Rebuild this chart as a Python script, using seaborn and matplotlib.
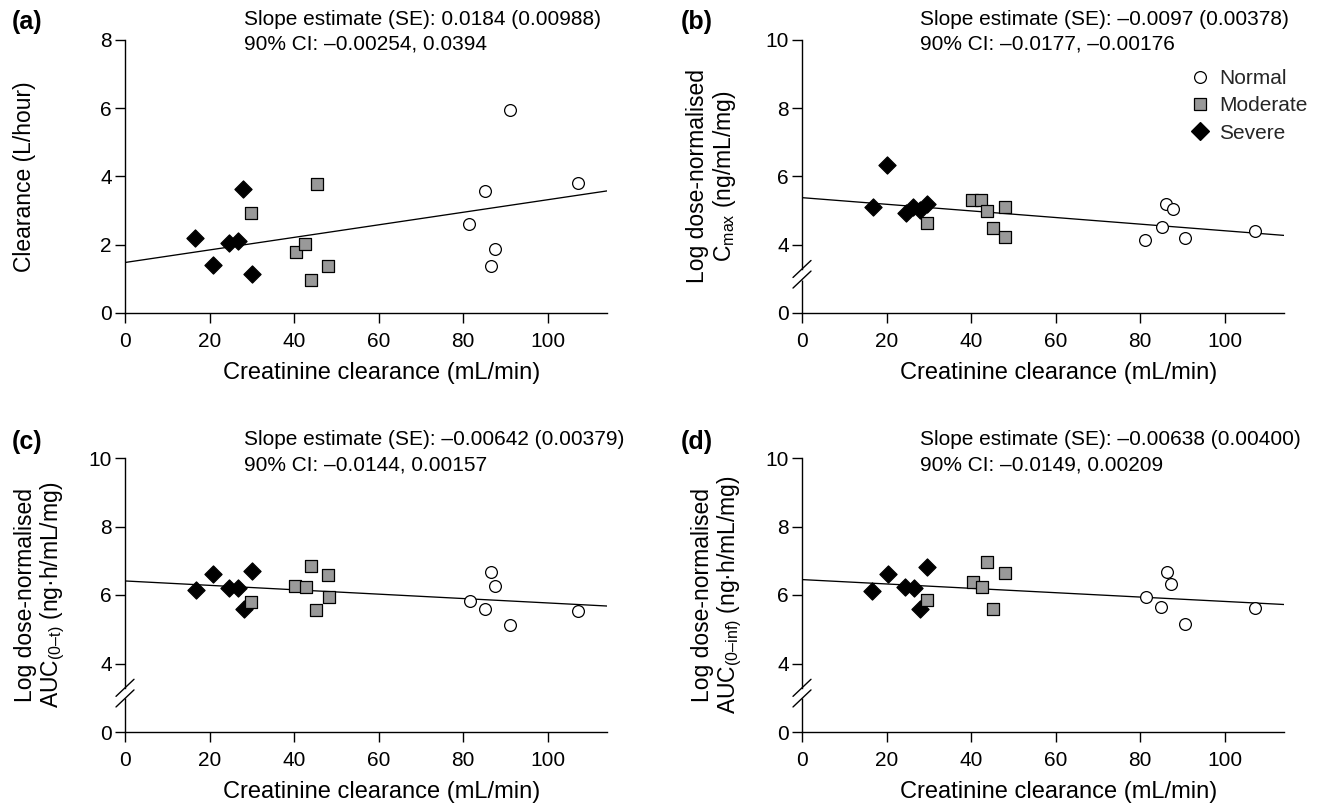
import numpy as np
import pandas as pd
import matplotlib
matplotlib.use("Agg")
import matplotlib.pyplot as plt
import matplotlib.transforms as mtransforms
from matplotlib.lines import Line2D
import seaborn as sns

# ---------------- data ----------------
groups = ["Normal", "Moderate", "Severe"]

# Panel (a): clearance (L/hour)
a_x_normal = [91.1, 85.2, 107.2, 81.4, 87.5, 86.5]
a_y_normal = [5.96, 3.58, 3.80, 2.61, 1.88, 1.37]
a_x_moderate = [29.8, 45.3, 40.4, 42.6, 48.0, 44.1]
a_y_moderate = [2.94, 3.77, 1.80, 2.01, 1.37, 0.97]
a_x_severe = [16.5, 20.9, 24.5, 26.8, 28.0, 30.1]
a_y_severe = [2.21, 1.40, 2.05, 2.10, 3.63, 1.14]

# Panel (b): log dose-normalised Cmax
b_x_normal = [86.2, 87.7, 85.1, 81.2, 90.7, 107.2]
b_y_normal = [5.18, 5.05, 4.53, 4.13, 4.19, 4.39]
b_x_moderate = [29.5, 40.2, 42.4, 43.8, 45.1, 47.9, 47.9]
b_y_moderate = [4.64, 5.30, 5.30, 4.99, 4.48, 5.10, 4.24]
b_x_severe = [16.7, 20.2, 24.5, 26.3, 28.0, 29.6]
b_y_severe = [5.10, 6.35, 4.92, 5.10, 5.03, 5.18]

# Panel (c): log dose-normalised AUC(0-t)
c_x_normal = [86.5, 87.5, 81.5, 85.1, 91.0, 107.2]
c_y_normal = [6.68, 6.26, 5.83, 5.58, 5.11, 5.54]
c_x_moderate = [29.7, 40.2, 42.7, 44.1, 48.0, 48.2, 45.2]
c_y_moderate = [5.81, 6.26, 6.22, 6.85, 6.59, 5.93, 5.57]
c_x_severe = [16.7, 20.7, 24.5, 26.8, 28.2, 30.1]
c_y_severe = [6.15, 6.61, 6.20, 6.20, 5.59, 6.71]

# Panel (d): log dose-normalised AUC(0-inf)
d_x_normal = [86.4, 87.3, 81.3, 85.0, 90.7, 107.2]
d_y_normal = [6.68, 6.32, 5.93, 5.64, 5.15, 5.63]
d_x_moderate = [29.5, 40.4, 42.6, 43.8, 48.0, 45.1]
d_y_moderate = [5.85, 6.39, 6.22, 6.96, 6.63, 5.60]
d_x_severe = [16.5, 20.4, 24.3, 26.5, 28.0, 29.6]
d_y_severe = [6.13, 6.61, 6.24, 6.20, 5.59, 6.83]

# regression lines (intercept, slope)
intercepts = [1.48, 5.38, 6.41, 6.45]
slopes = [0.0184, -0.0097, -0.00642, -0.00638]

stats_line1 = ["Slope estimate (SE): 0.0184 (0.00988)",
               "Slope estimate (SE): \u20130.0097 (0.00378)",
               "Slope estimate (SE): \u20130.00642 (0.00379)",
               "Slope estimate (SE): \u20130.00638 (0.00400)"]
stats_line2 = ["90% CI: \u20130.00254, 0.0394",
               "90% CI: \u20130.0177, \u20130.00176",
               "90% CI: \u20130.0144, 0.00157",
               "90% CI: \u20130.0149, 0.00209"]
panel_labels = ["(a)", "(b)", "(c)", "(d)"]
y_labels = ["Clearance (L/hour)",
            "Log dose-normalised\nC$_{\\mathrm{max}}$ (ng/mL/mg)",
            "Log dose-normalised\nAUC$_{\\mathrm{(0\u2013t)}}$ (ng\u00b7h/mL/mg)",
            "Log dose-normalised\nAUC$_{\\mathrm{(0\u2013inf)}}$ (ng\u00b7h/mL/mg)"]
x_label = "Creatinine clearance (mL/min)"
x_ticks = [0, 20, 40, 60, 80, 100]
y_ticks_a = [0, 2, 4, 6, 8]
y_ticks_broken = [2, 4, 6, 8, 10]          # axis positions (0 drawn at 2)
y_ticklabels_broken = ["0", "4", "6", "8", "10"]

# ---------------- style ----------------
sns.set_theme(style="ticks")
plt.rcParams["font.family"] = ["Liberation Sans", "DejaVu Sans"]
plt.rcParams["mathtext.fontset"] = "custom"
plt.rcParams["mathtext.rm"] = "Liberation Sans"
plt.rcParams["mathtext.it"] = "Liberation Sans:italic"
plt.rcParams["mathtext.bf"] = "Liberation Sans:bold"

colors = {"Normal": "white", "Moderate": "#999999", "Severe": "black"}
markers = {"Normal": "o", "Moderate": "s", "Severe": "D"}
msize = {"Normal": 72, "Moderate": 72, "Severe": 76}

W, H = 1320, 809
fig = plt.figure(figsize=(W / 100, H / 100), dpi=100)


def rect(l, r, top, bottom):
    return [l / W, 1 - bottom / H, (r - l) / W, (bottom - top) / H]


rects = [rect(125, 607, 40, 313), rect(802, 1284, 40, 313),
         rect(125, 607, 458, 732), rect(802, 1284, 458, 732)]

panel_data = [
    (a_x_normal, a_y_normal, a_x_moderate, a_y_moderate, a_x_severe, a_y_severe),
    (b_x_normal, b_y_normal, b_x_moderate, b_y_moderate, b_x_severe, b_y_severe),
    (c_x_normal, c_y_normal, c_x_moderate, c_y_moderate, c_x_severe, c_y_severe),
    (d_x_normal, d_y_normal, d_x_moderate, d_y_moderate, d_x_severe, d_y_severe),
]

text_pos = [(244, 25, 50), (920, 25, 50), (244, 445, 470), (920, 445, 470)]
label_pos = [(12, 22), (681, 22), (12, 442), (681, 442)]
ylabel_x = [-0.185, -0.133, -0.12, -0.12]

XMAX = 114
for i, (r, pdata) in enumerate(zip(rects, panel_data)):
    ax = fig.add_axes(r)
    xn, yn, xm, ym, xs, ys = pdata
    frames = []
    for g, xx, yy in zip(groups, (xn, xm, xs), (yn, ym, ys)):
        frames.append(pd.DataFrame({"crcl": xx, "val": yy, "group": g}))
    df = pd.concat(frames, ignore_index=True)

    # regression line
    xl = np.array([0.0, XMAX])
    yl = intercepts[i] + slopes[i] * xl
    sns.lineplot(x=xl, y=yl, ax=ax, color="black", linewidth=0.95,
                 legend=False, zorder=2)

    for g in ["Severe", "Moderate", "Normal"]:
        sub = df[df["group"] == g]
        sns.scatterplot(data=sub, x="crcl", y="val", ax=ax, marker=markers[g],
                        color=colors[g], edgecolor="black", linewidth=0.9,
                        s=msize[g], legend=False, zorder=3, clip_on=False)

    ax.set_xlim(0, XMAX)
    ax.set_xticks(x_ticks)
    if i == 0:
        ax.set_ylim(0, 8)
        ax.set_yticks(y_ticks_a)
    else:
        ax.set_ylim(2, 10)
        ax.set_yticks(y_ticks_broken)
        ax.set_yticklabels(y_ticklabels_broken)

    for side in ["top", "right"]:
        ax.spines[side].set_visible(False)
    for side in ["left", "bottom"]:
        ax.spines[side].set_linewidth(1.0)
        ax.spines[side].set_color("black")
    ax.tick_params(axis="both", direction="out", length=7, width=1.0,
                   colors="black", labelsize=15)
    ax.tick_params(axis="x", pad=6.5)
    ax.tick_params(axis="y", pad=2.5)

    if i > 0:
        # broken axis
        y_hi, y_lo = 3.29, 2.98
        ax.spines["left"].set_bounds(y_hi, 10)
        trans = mtransforms.blended_transform_factory(ax.transAxes, ax.transData)
        ax.plot([0, 0], [2, y_lo], transform=trans, color="black", lw=1.0,
                clip_on=False, solid_capstyle="butt")
        dx, dy = 9 / 482, 8.5 / 273
        for yc in (y_hi, y_lo):
            yca = (yc - 2) / 8
            ax.plot([-dx, dx], [yca - dy, yca + dy], transform=ax.transAxes,
                    color="black", lw=1.0, clip_on=False)

    ax.set_xlabel(x_label, fontsize=17, color="black")
    ax.xaxis.set_label_coords(0.533, -0.18)
    ax.set_ylabel(y_labels[i], fontsize=16.5, color="black", linespacing=1.1)
    ax.yaxis.set_label_coords(ylabel_x[i], 0.5)

    tx, ty1, ty2 = text_pos[i]
    fig.text(tx / W, 1 - ty1 / H, stats_line1[i], fontsize=15,
             va="baseline", ha="left", color="black")
    fig.text(tx / W, 1 - ty2 / H, stats_line2[i], fontsize=15,
             va="baseline", ha="left", color="black")
    lx, ly = label_pos[i]
    fig.text(lx / W, 1 - ly / H, panel_labels[i], fontsize=18,
             fontweight="bold", va="center", ha="left", color="black")

    if i == 1:
        handles = [Line2D([], [], linestyle="none", marker=markers[g],
                          markerfacecolor=colors[g], markeredgecolor="black",
                          markeredgewidth=0.9, markersize=np.sqrt(msize[g]))
                   for g in groups]
        fig.legend(handles, groups, loc="upper left",
                   bbox_to_anchor=(1192 / W, 1 - 69 / H), frameon=False,
                   fontsize=15, handlelength=0.8, handletextpad=0.5,
                   labelspacing=0.4, borderpad=0, borderaxespad=0)

fig.savefig("out.png", dpi=100)
